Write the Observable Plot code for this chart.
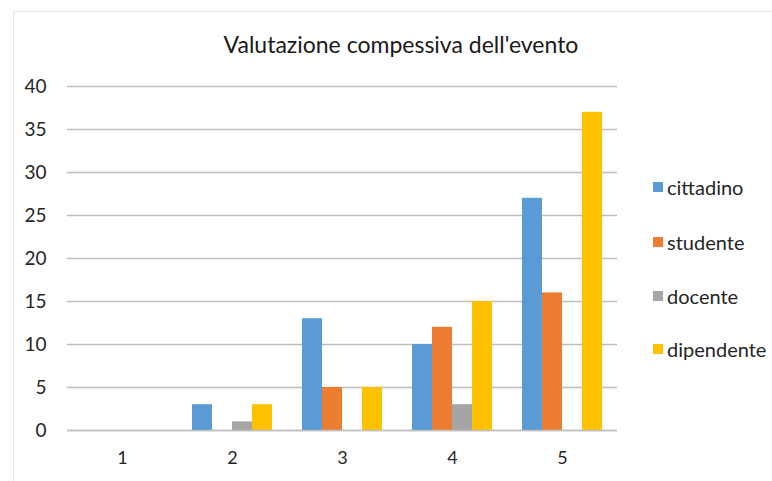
<!DOCTYPE html>
<html>
<head>
<meta charset="utf-8">
<script src="https://cdn.jsdelivr.net/npm/d3@7"></script>
<script src="https://cdn.jsdelivr.net/npm/@observablehq/plot@0.6"></script>
<style>
  html, body { margin: 0; padding: 0; background: #fff; }
  #wrap { position: relative; width: 772px; height: 481px; font-family: Lato, "Open Sans", sans-serif; }
  #frame { position: absolute; left: 13px; top: 11px; width: 780px; height: 480px; border-left: 1px solid #e6e6e6; border-top: 1px solid #e6e6e6; }
  #title { position: absolute; left: 0; width: 802px; top: 30px; text-align: center; font-size: 23px; color: #1a1a1a; }
  #legend { position: absolute; left: 653px; top: 0; }
  .item { position: absolute; left: 0; white-space: nowrap; font-size: 20px; color: #262626; display: flex; align-items: center; }
  .sw { width: 10px; height: 10px; margin-right: 4px; display: inline-block; }
  svg { position: absolute; left: 0; top: 0; }
</style>
</head>
<body>
<div id="wrap">
  <div id="frame"></div>
  <div id="chart"></div>
  <div id="title">Valutazione compessiva dell'evento</div>
  <div id="legend"></div>
</div>
<script>
const categories = ["1", "2", "3", "4", "5"];
const series = ["cittadino", "studente", "docente", "dipendente"];
const cittadino = [0, 3, 13, 10, 27];
const studente = [0, 0, 5, 12, 16];
const docente = [0, 1, 0, 3, 0];
const dipendente = [0, 3, 5, 15, 37];
const yTicks = [0, 5, 10, 15, 20, 25, 30, 35, 40];
const colors = ["#5B9BD5", "#ED7D31", "#A5A5A5", "#FFC000"];

const values = { cittadino, studente, docente, dipendente };
const data = [];
categories.forEach((c, i) => series.forEach(s => data.push({ cat: c, series: s, value: values[s][i] })));

const chart = Plot.plot({
  width: 772,
  height: 481,
  marginLeft: 67,
  marginRight: 155,
  marginTop: 86,
  marginBottom: 51,
  style: { fontFamily: "Lato, 'Open Sans', sans-serif", background: "transparent" },
  fx: { domain: categories, padding: 0, label: null },
  x: { domain: series, paddingInner: 0, paddingOuter: 0.75, axis: null },
  y: { domain: [0, 40], label: null },
  color: { domain: series, range: colors },
  marks: [
    Plot.gridY(yTicks, { stroke: "#bfbfbf", strokeOpacity: 1, strokeWidth: 1.3 }),
    Plot.barY(data, { fx: "cat", x: "series", y: "value", fill: "series" }),
    Plot.ruleY([0], { stroke: "#bfbfbf", strokeWidth: 1.3 }),
    Plot.axisY(yTicks, { tickSize: 0, tickPadding: 21, fontSize: 19, fill: "#262626", label: null }),
    Plot.axisFx({ anchor: "bottom", tickSize: 0, tickPadding: 21, fontSize: 18, fill: "#262626", label: null })
  ]
});
document.getElementById("chart").appendChild(chart);
d3.select(chart).selectAll('g[aria-label="fx-axis tick label"]').style("font-size", "18px")
  .selectAll("text").style("font-size", "18px");

const legend = document.getElementById("legend");
const legendY = [187, 242, 296, 349];
series.forEach((s, i) => {
  const d = document.createElement("div");
  d.className = "item";
  d.style.top = (legendY[i] - 13) + "px";
  d.style.height = "26px";
  d.innerHTML = `<span class="sw" style="background:${colors[i]}"></span>${s}`;
  legend.appendChild(d);
});
</script>
</body>
</html>
